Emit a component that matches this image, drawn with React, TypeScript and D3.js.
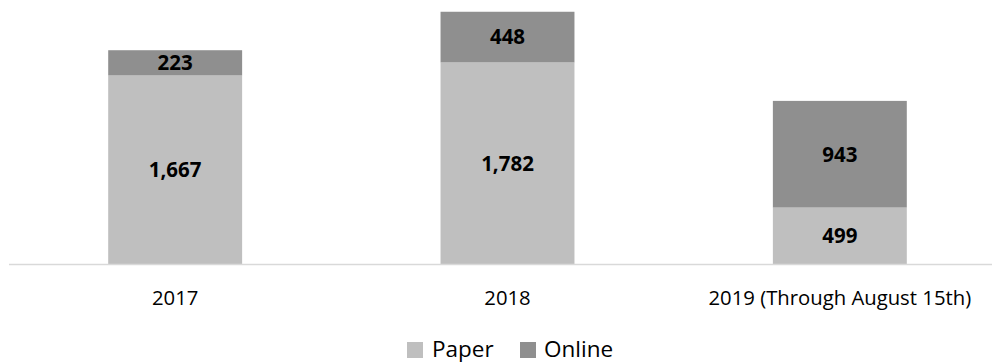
import React from "react";
import * as d3 from "d3";

const categories = ["2017", "2018", "2019 (Through August 15th)"];
const paper = [1667, 1782, 499];
const online = [223, 448, 943];
const seriesNames = ["Paper", "Online"];
const colors = ["#BFBFBF", "#8F8F8F"];

const W = 992;
const H = 363;
const baseY = 264;

export default function App() {
  const x = d3
    .scaleBand<string>()
    .domain(categories)
    .range([9, 1006])
    .paddingInner(0.597)
    .paddingOuter(0.2985);
  const y = d3.scaleLinear().domain([0, 2334]).range([baseY, 0]);

  const rows = categories.map((c, i) => ({ cat: c, Paper: paper[i], Online: online[i] }));
  const stack = d3.stack<any>().keys(seriesNames)(rows);
  const fmt = d3.format(",");
  const font = "'Open Sans', sans-serif";

  return (
    <div style={{ position: "absolute", left: 0, top: 0 }}>
      <svg width={W} height={H} style={{ display: "block", background: "#fff" }}>
        {stack.map((layer, si) => (
          <g key={layer.key}>
            {layer.map((d, i) => {
              const x0 = x(categories[i])!;
              const y0 = y(d[1]);
              const y1 = y(d[0]);
              return (
                <g key={i}>
                  <rect x={x0} y={y0} width={x.bandwidth()} height={y1 - y0} fill={colors[si]} />
                  <text
                    x={x0 + x.bandwidth() / 2}
                    y={(y0 + y1) / 2}
                    dy="0.36em"
                    textAnchor="middle"
                    fontFamily={font}
                    fontWeight="bold"
                    fontSize={20.5}
                    fill="#000"
                  >
                    {fmt(d[1] - d[0])}
                  </text>
                </g>
              );
            })}
          </g>
        ))}
        <line x1={9} x2={992} y1={baseY + 0.5} y2={baseY + 0.5} stroke="#D9D9D9" strokeWidth={1.5} />
        {categories.map((c) => (
          <text
            key={c}
            x={x(c)! + x.bandwidth() / 2}
            y={305}
            textAnchor="middle"
            fontFamily={font}
            fontSize={20.3}
            fill="#000"
          >
            {c}
          </text>
        ))}
        <g>
          <rect x={407} y={342} width={16} height={16} fill={colors[0]} />
          <text x={432} y={357} fontFamily={font} fontSize={22.5} fill="#000">
            {seriesNames[0]}
          </text>
          <rect x={520} y={342} width={16} height={16} fill={colors[1]} />
          <text x={544} y={357} fontFamily={font} fontSize={22.5} fill="#000">
            {seriesNames[1]}
          </text>
        </g>
      </svg>
    </div>
  );
}
